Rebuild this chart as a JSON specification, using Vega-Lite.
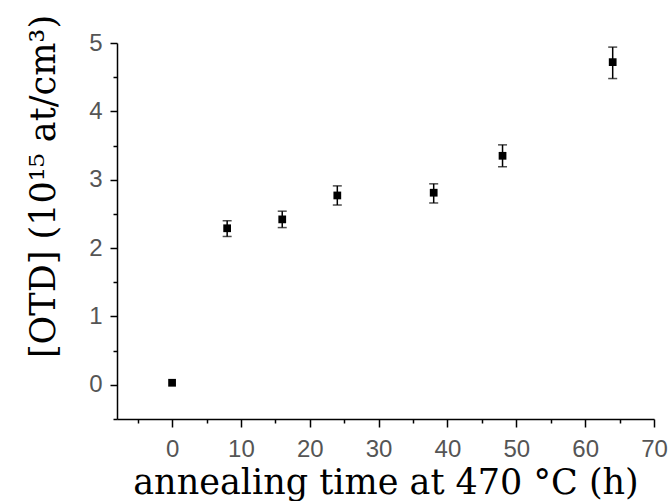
{
  "$schema": "https://vega.github.io/schema/vega-lite/v6.json",
  "width": 537,
  "height": 376,
  "autosize": {"type": "none"},
  "padding": {"left": 117, "top": 43, "right": 15, "bottom": 82},
  "background": "white",
  "config": {
    "view": {"stroke": null},
    "axis": {
      "grid": false,
      "domainColor": "black",
      "tickColor": "black",
      "domainWidth": 1.5,
      "tickWidth": 1.5,
      "labelFont": "Liberation Sans",
      "labelFontSize": 24,
      "labelColor": "#555555",
      "titleFont": "DejaVu Serif",
      "titleFontSize": 35,
      "titleFontWeight": "normal",
      "titleColor": "black"
    },
    "axisY": {
      "title": "[OTD] (10¹⁵ at/cm³)",
      "values": [0, 0.5, 1, 1.5, 2, 2.5, 3, 3.5, 4, 4.5, 5],
      "labelExpr": "datum.value % 1 === 0 ? format(datum.value, 'd') : ''",
      "tickSize": {"condition": {"test": "datum.value % 1 === 0", "value": 7}, "value": 4},
      "labelPadding": 8,
      "labelFlush": false,
      "labelOverlap": false,
      "titleAngle": 270,
      "titleAlign": "center",
      "titleBaseline": "alphabetic",
      "titleX": -63,
      "titleY": 143
    }
  },
  "data": {
    "values": [
      {"t": 0, "v": 0.03, "lo": null, "hi": null},
      {"t": 8, "v": 2.29, "lo": 2.17, "hi": 2.40},
      {"t": 16, "v": 2.42, "lo": 2.30, "hi": 2.54},
      {"t": 24, "v": 2.77, "lo": 2.63, "hi": 2.91},
      {"t": 38, "v": 2.81, "lo": 2.66, "hi": 2.94},
      {"t": 48, "v": 3.35, "lo": 3.19, "hi": 3.51},
      {"t": 64, "v": 4.72, "lo": 4.48, "hi": 4.94}
    ]
  },
  "encoding": {
    "x": {
      "field": "t",
      "type": "quantitative",
      "scale": {"domain": [-8, 70], "nice": false, "zero": false},
      "axis": {
        "title": "annealing time at 470 °C (h)",
        "values": [-5, 0, 5, 10, 15, 20, 25, 30, 35, 40, 45, 50, 55, 60, 65, 70],
        "labelExpr": "(datum.value % 10 === 0 && datum.value >= 0) ? datum.label : ''",
        "tickSize": {"condition": {"test": "datum.value % 10 === 0", "value": 8}, "value": 4},
        "labelPadding": 10,
        "labelFlush": false,
        "labelOverlap": false,
        "titleBaseline": "alphabetic",
        "titleY": 74
      }
    }
  },
  "layer": [
    {
      "mark": {"type": "point", "shape": "square", "filled": true, "size": 60, "color": "black", "opacity": 1},
      "encoding": {
        "y": {
          "field": "v",
          "type": "quantitative",
          "scale": {"domain": [-0.5, 5], "nice": false, "zero": false},
          "title": "[OTD] (10¹⁵ at/cm³)"
        }
      }
    },
    {
      "mark": {"type": "rule", "color": "black", "strokeWidth": 1.5},
      "encoding": {
        "y": {"field": "lo", "type": "quantitative", "scale": {"domain": [-0.5, 5], "nice": false, "zero": false}, "title": "[OTD] (10¹⁵ at/cm³)"},
        "y2": {"field": "hi"}
      }
    },
    {
      "mark": {"type": "tick", "orient": "horizontal", "size": 9, "thickness": 1.5, "color": "black"},
      "encoding": {
        "y": {"field": "lo", "type": "quantitative", "scale": {"domain": [-0.5, 5], "nice": false, "zero": false}, "title": "[OTD] (10¹⁵ at/cm³)"}
      }
    },
    {
      "mark": {"type": "tick", "orient": "horizontal", "size": 9, "thickness": 1.5, "color": "black"},
      "encoding": {
        "y": {"field": "hi", "type": "quantitative", "scale": {"domain": [-0.5, 5], "nice": false, "zero": false}, "title": "[OTD] (10¹⁵ at/cm³)"}
      }
    }
  ]
}
